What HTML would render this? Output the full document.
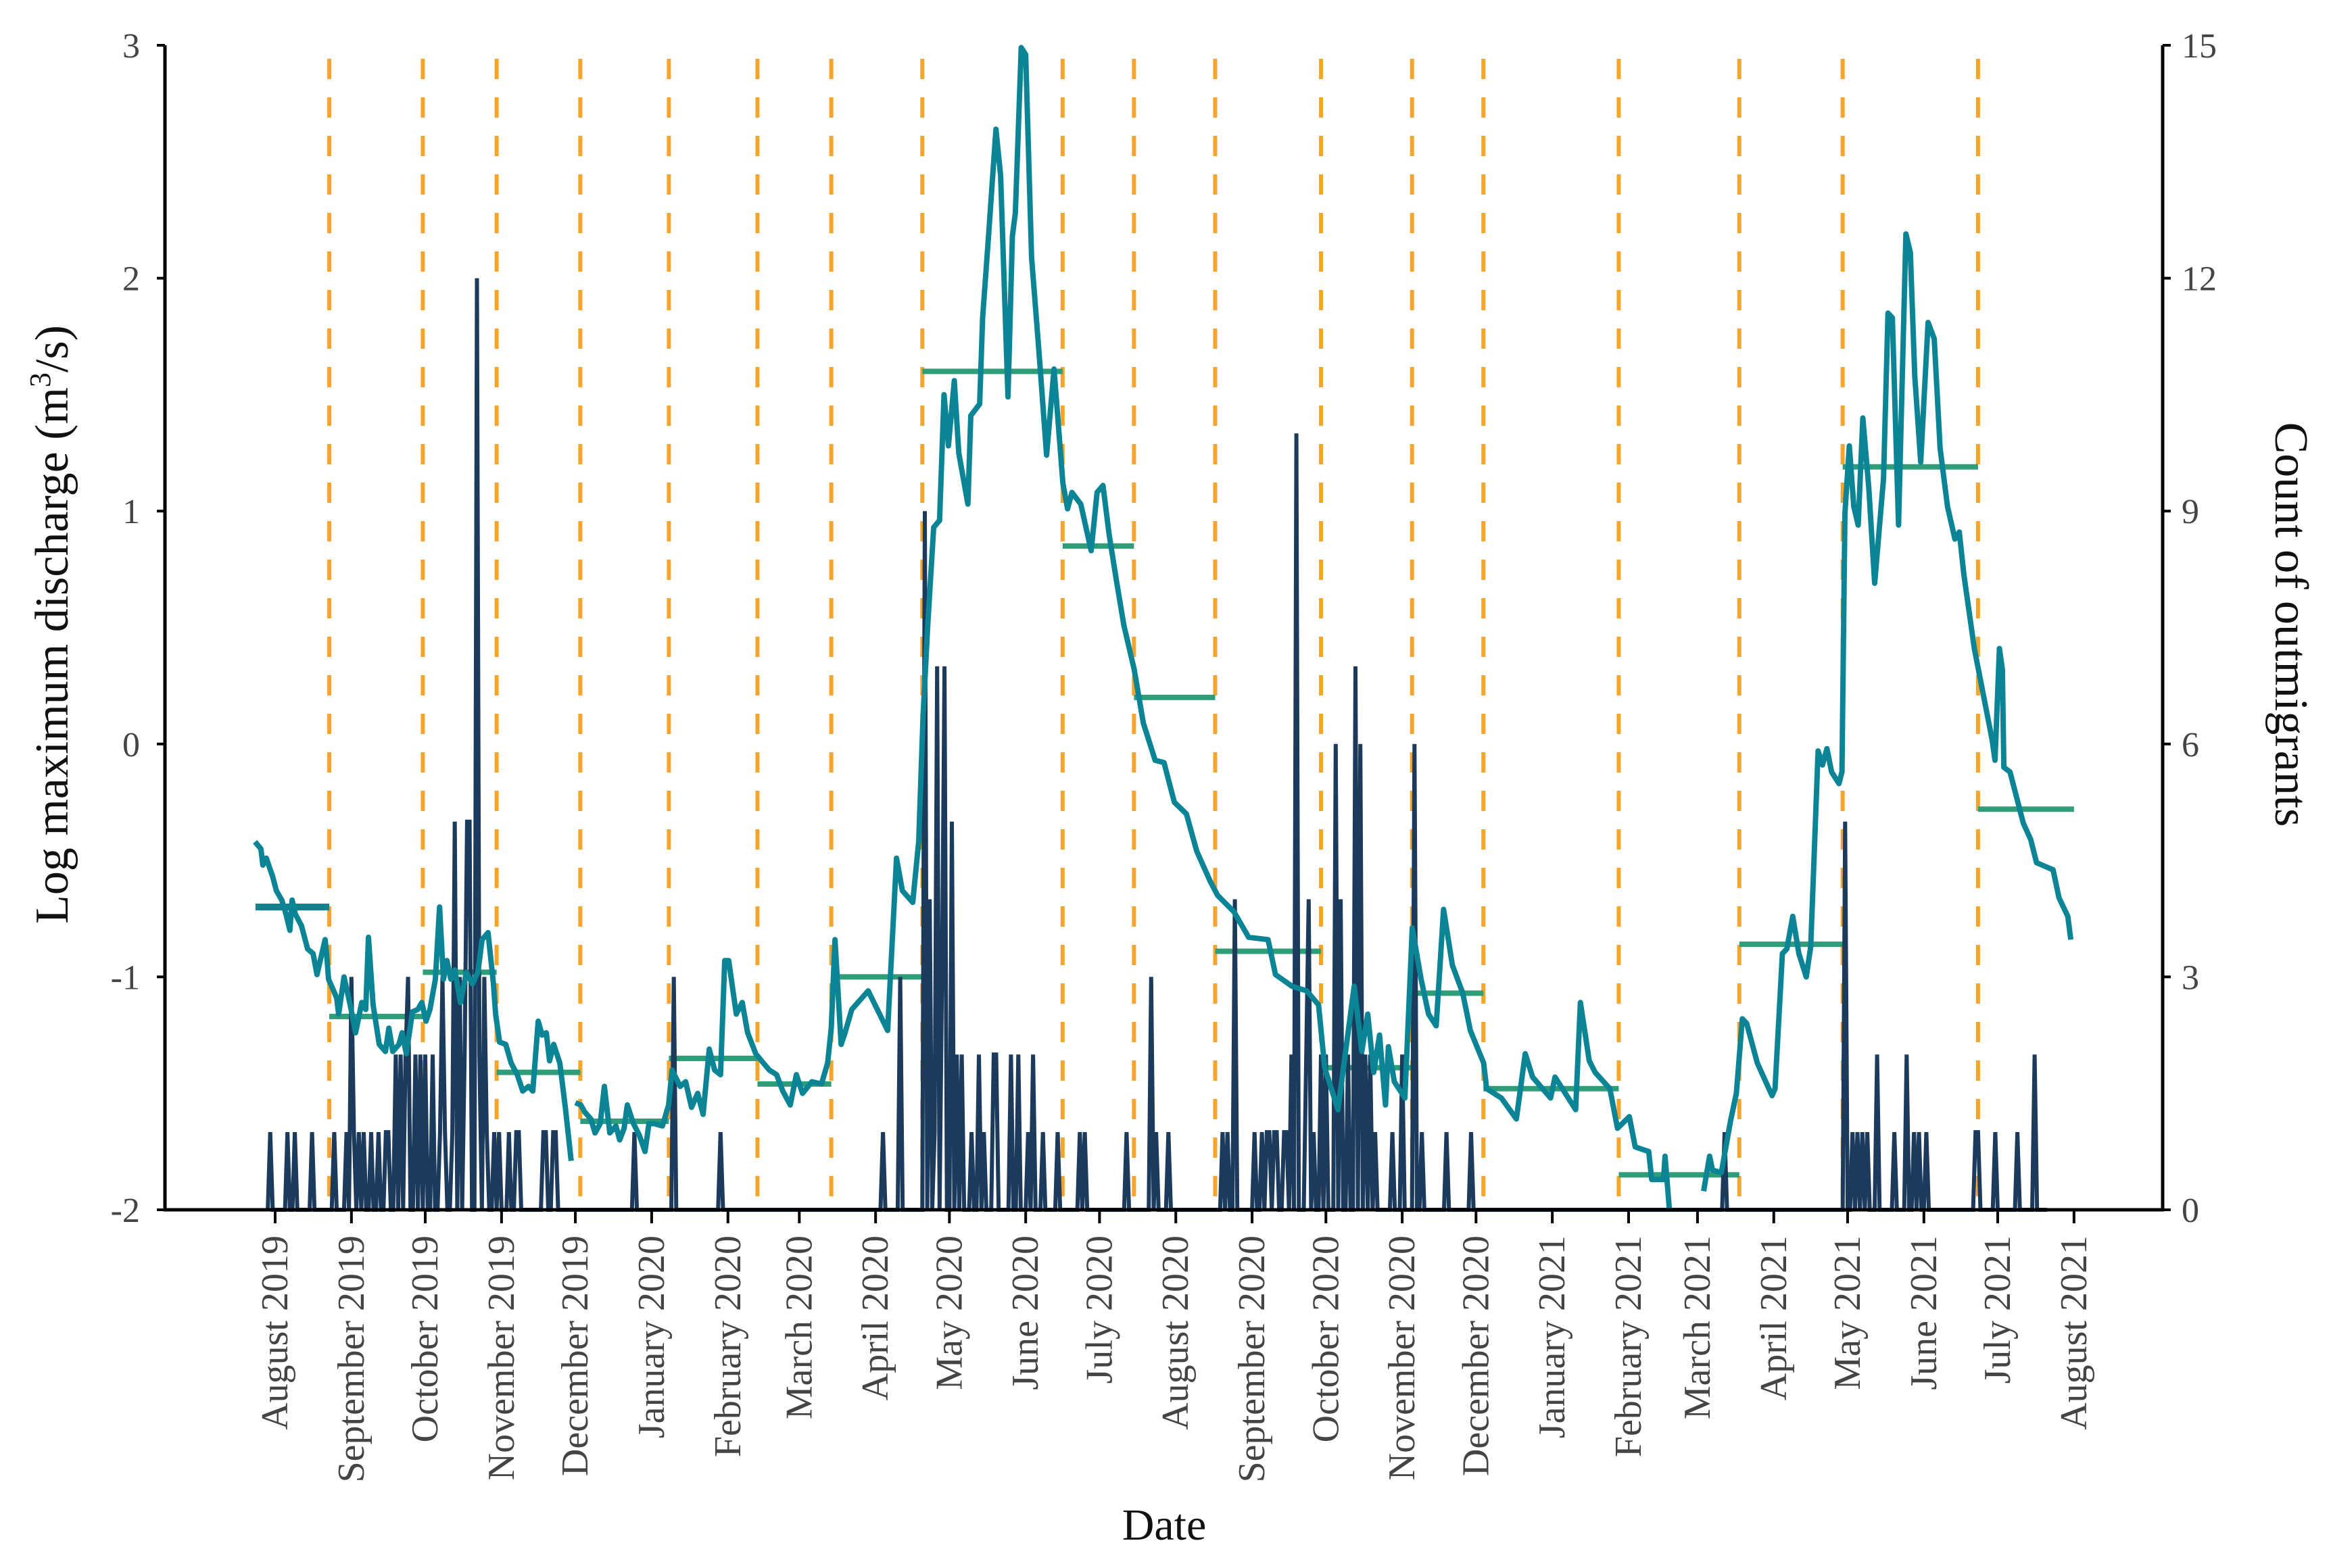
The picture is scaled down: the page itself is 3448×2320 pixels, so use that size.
<!DOCTYPE html>
<html><head><meta charset="utf-8"><title>Discharge and outmigrants</title>
<style>
html,body{margin:0;padding:0;background:#fff;}
svg{display:block;font-family:"Liberation Serif",serif;}
</style></head>
<body>
<svg id="chart" width="3448" height="2320" viewBox="0 0 3448 2320" xmlns="http://www.w3.org/2000/svg">
<rect width="3448" height="2320" fill="#fff"/>
<g id="dashes"></g>
<g id="means"></g>
<g id="counts"></g>
<g id="discharge"></g>
<g id="axes"></g>
<text x="0" y="0" transform="translate(100,924) rotate(-90)" text-anchor="middle" font-size="70" fill="#111">Log maximum discharge (m<tspan dy="-26" font-size="44">3</tspan><tspan dy="26">/s)</tspan></text>
<text x="0" y="0" transform="translate(3366,924) rotate(90)" text-anchor="middle" font-size="70" fill="#111">Count of outmigrants</text>
<text x="1722" y="2278" text-anchor="middle" font-size="66" fill="#111">Date</text>
</svg>
<script>
// ---- data ----
const monthLabels = ["August 2019","September 2019","October 2019","November 2019","December 2019","January 2020","February 2020","March 2020","April 2020","May 2020","June 2020","July 2020","August 2020","September 2020","October 2020","November 2020","December 2020","January 2021","February 2021","March 2021","April 2021","May 2021","June 2021","July 2021","August 2021"];
const monthDays = [0,31,61,92,122,153,184,213,244,274,305,335,366,397,427,458,488,519,550,578,609,639,670,700,731];
const leftTicks = [-2,-1,0,1,2,3];
const rightTicks = [0,3,6,9,12,15];
const boundaryDays = [22,60,90,124,160,196,226,263,320,349,382,425,462,491,546,595,637,692];
const meanStart = [-8,22,60,90,124,160,196,226,263,320,349,382,425,462,491,546,595,637,692];
const meanEnd = [22,60,90,124,160,196,226,263,320,349,382,425,462,491,546,595,637,692,731];
const meanValues = [-0.70,-1.17,-0.98,-1.41,-1.62,-1.35,-1.46,-1.0,1.60,0.85,0.20,-0.89,-1.39,-1.07,-1.48,-1.85,-0.86,1.19,-0.28];
const qDays = [-8.2,-5.8,-5,-3.6,-1,0.5,2.7,4.4,6,6.9,8.2,10.7,13.2,15.4,17,20.3,20.9,21.7,25,25.8,28,30.5,32.7,35.2,36.8,37.9,39.8,42.3,44.8,46.2,47.8,50.3,51.6,53.3,55.8,58,59.6,61.3,62.9,65.1,66.8,68.4,69.8,71.4,73,75.3,77.7,80.2,82.4,84.1,86.5,88.7,89.6,91.2,93.7,95.9,98.4,100.6,103,104.7,106.9,108.5,110.2,111.5,113.2,115.7,117.9,120.3,121,122,124.2,125.8,128.3,130,132.1,133.8,136,138.5,140,141.8,143.1,145.6,148,150.3,151.9,154.1,157.4,159.9,161.3,164.6,166.8,169.2,171.7,173.9,176.4,178.6,181,182.7,184.3,187.4,189.8,192,195.3,198.4,200.8,203.8,206.3,209.3,211.8,214.3,218.1,222,224.5,226,227.5,230,231.6,234.3,241,248.9,252.5,254.9,259.1,261.5,263.3,265.2,267.6,270,271.8,273.6,276,277.8,281.5,282.7,286.3,287.5,289.9,292.9,294.8,297.8,299.6,300.8,303.2,305,307.4,310.5,313.5,316.5,320.1,322,323.8,327.4,331.6,334,336.4,338.9,341.9,344.9,349.1,352.8,357.6,361.2,365.4,370.3,374.5,380,383,389.6,395.6,403.5,406.5,413.2,419.2,424,426.5,431.9,438.5,441.6,444,446.4,448.8,451.2,452.4,454.8,459.1,462.1,465.7,468.7,471.8,474.8,478.4,482.6,485.7,491.1,492.3,498.3,504.4,508,511,518.3,520.1,528.5,530.4,534,536.4,542.4,545.5,550.3,552.7,558.2,559.4,564.2,564.8,566.6,570,580.5,582.9,584.1,587.7,591.4,593.8,596.2,598,602.3,605.3,608.3,609.5,612.5,614.3,616.7,619.2,622.2,624,627,628.8,630.6,632.5,635.5,636.7,637.9,639.7,641.5,643.3,645.2,647.6,650,653.6,655.4,657.2,659.7,662.7,664.5,666.3,668.7,671.7,674.2,676.6,679.6,682.6,684.4,686.2,690.5,697.7,698.9,700.7,701.9,702.5,705,710.4,713.4,715.8,722.5,724.9,728.5,729.7];
const qValues = [-0.42,-0.45,-0.52,-0.49,-0.57,-0.63,-0.67,-0.73,-0.80,-0.67,-0.73,-0.78,-0.88,-0.90,-0.99,-0.84,-0.90,-1.01,-1.09,-1.16,-1.00,-1.12,-1.24,-1.11,-1.14,-0.83,-1.12,-1.29,-1.32,-1.22,-1.32,-1.29,-1.24,-1.33,-1.15,-1.14,-1.11,-1.19,-1.14,-1.01,-0.70,-1.01,-0.93,-1.01,-0.97,-1.11,-0.98,-1.03,-0.98,-0.84,-0.81,-1.03,-1.16,-1.28,-1.29,-1.37,-1.42,-1.49,-1.47,-1.49,-1.19,-1.25,-1.24,-1.36,-1.29,-1.37,-1.56,-1.79,null,-1.54,-1.55,-1.58,-1.61,-1.67,-1.63,-1.47,-1.67,-1.64,-1.70,-1.65,-1.55,-1.63,-1.68,-1.75,-1.63,-1.63,-1.64,-1.55,-1.40,-1.47,-1.45,-1.56,-1.50,-1.59,-1.31,-1.40,-1.42,-0.93,-0.93,-1.16,-1.11,-1.24,-1.33,-1.37,-1.40,-1.42,-1.49,-1.55,-1.42,-1.50,-1.45,-1.46,-1.37,-1.22,-0.84,-1.29,-1.24,-1.14,-1.06,-1.23,-0.49,-0.63,-0.68,-0.42,0.12,0.51,0.93,0.96,1.50,1.28,1.56,1.25,1.03,1.41,1.46,1.83,2.18,2.64,2.44,1.49,2.18,2.28,2.99,2.96,2.09,1.67,1.24,1.61,1.12,1.01,1.08,1.03,0.83,1.08,1.11,0.90,0.70,0.51,0.32,0.09,-0.07,-0.08,-0.25,-0.30,-0.46,-0.59,-0.65,-0.72,-0.83,-0.84,-0.99,-1.04,-1.06,-1.12,-1.39,-1.57,-1.04,-1.32,-1.16,-1.41,-1.25,-1.55,-1.30,-1.45,-1.52,-0.79,-1.01,-1.16,-1.21,-0.71,-0.95,-1.07,-1.23,-1.37,-1.48,-1.52,-1.61,-1.33,-1.43,-1.52,-1.43,-1.57,-1.11,-1.36,-1.41,-1.48,-1.65,-1.60,-1.73,-1.75,-1.87,-1.87,-1.77,-2.01,null,-1.92,-1.77,-1.83,-1.84,-1.62,-1.50,-1.18,-1.20,-1.37,-1.44,-1.51,-1.48,-0.90,-0.88,-0.74,-0.90,-1.00,-0.87,-0.03,-0.09,-0.02,-0.12,-0.17,-0.12,0.99,1.28,1.02,0.94,1.40,1.10,0.69,1.14,1.85,1.83,0.94,2.19,2.11,1.58,1.21,1.81,1.74,1.27,1.02,0.88,0.91,0.73,0.41,0.02,-0.07,0.41,0.32,-0.10,-0.12,-0.34,-0.41,-0.51,-0.54,-0.66,-0.74,-0.84];
const countDays = [-2,5,8,15,24,29,31,32,34,36,39,42,45,46,49,51,53,54,57,59,61,64,67,68,69,72,73,75,77,78,79,82,83,85,86,89,91,95,98,99,109,110,113,114,146,162,181,247,254,264,266,268,269,271,272,275,277,279,283,286,288,292,293,299,302,306,308,312,318,327,329,346,356,358,363,385,387,390,398,401,403,404,406,407,410,411,413,415,419,420,422,425,427,431,433,436,439,441,443,445,447,454,458,463,466,476,486,589,638,641,643,645,647,651,658,663,666,668,671,691,692,699,708,715];
const countValues = [1,1,1,1,1,1,3,1,1,1,1,1,1,1,2,2,2,3,2,2,2,2,1,3,1,1,5,3,2,5,5,12,2,3,1,1,1,1,1,1,1,1,1,1,1,3,1,1,3,9,4,1,7,3,7,5,2,2,1,2,1,2,2,2,2,1,2,1,1,1,1,1,3,1,1,1,1,4,1,1,1,1,1,1,1,1,2,10,2,4,1,2,2,6,4,2,7,6,2,2,1,1,2,6,1,1,1,1,5,1,1,1,1,2,1,2,1,1,1,1,1,1,1,2];

// ---- scales ----
const X0 = 407, PXD = 3.640;
const L = 244, R = 3199, T = 67, B = 1790;
function xs(d){ return X0 + d*PXD; }
function yL(v){ return B - (v+2)/5*(B-T); }
function yR(c){ return B - c/15*(B-T); }
const NS = "http://www.w3.org/2000/svg";
function mk(tag, attrs, parent){ const e=document.createElementNS(NS,tag); for(const k in attrs) e.setAttribute(k,attrs[k]); parent.appendChild(e); return e; }

// boundaries
const gD = document.getElementById('dashes');
boundaryDays.forEach(d=>{
  const l = mk('line',{x1:xs(d),x2:xs(d),y1:T+20,y2:B,stroke:'#f7a42a','stroke-width':6,'stroke-dasharray':'30 27'},gD);
  
  
});

// counts (daily)
const gC = document.getElementById('counts');
const daily = {};
countDays.forEach((d,i)=>{ daily[d]=countValues[i]; });
let pts = [];
for(let d=-3; d<=720; d++){ const c = daily[d]||0; pts.push(xs(d).toFixed(1)+','+yR(c).toFixed(1)); }
const cl = mk('polyline',{points:pts.join(' '),fill:'none',stroke:'#1c3a5c','stroke-width':6,'stroke-linejoin':'miter'},gC);



// period means
const gM = document.getElementById('means');
meanValues.forEach((v,i)=>{
  const l = mk('line',{x1:xs(meanStart[i]),x2:xs(meanEnd[i]),y1:yL(v),y2:yL(v),stroke:i===0?'#16808e':'#2f9d78','stroke-width':i===0?10:8},gM);
  
  
});

// discharge
const gQ = document.getElementById('discharge');
let segs=[], cur=[];
qDays.forEach((d,i)=>{
  const v=qValues[i];
  if(v===null){ if(cur.length) segs.push(cur); cur=[]; return; }
  cur.push(xs(d).toFixed(1)+','+yL(Math.max(v,-2)).toFixed(1));
});
if(cur.length) segs.push(cur);
segs.forEach(s=>{
  const p = mk('polyline',{points:s.join(' '),fill:'none',stroke:'#0b8595','stroke-width':8,'stroke-linejoin':'round'},gQ);
  
  
});

// axes
const gA = document.getElementById('axes');
const ax1 = mk('line',{x1:L,x2:L,y1:T,y2:B+2,stroke:'#000','stroke-width':5},gA);


const ax2 = mk('line',{x1:R,x2:R,y1:T,y2:B+2,stroke:'#000','stroke-width':5},gA);


const ax3 = mk('line',{x1:L-2,x2:R+2,y1:B,y2:B,stroke:'#000','stroke-width':5},gA);


leftTicks.forEach(v=>{
  const y=yL(v);
  const t = mk('line',{x1:L-12,x2:L,y1:y,y2:y,stroke:'#000','stroke-width':4},gA);
  
  
  const tx = mk('text',{x:207,y:y+18,'text-anchor':'end','font-size':52,fill:'#444'},gA);
  tx.textContent = v;
  
  
});
rightTicks.forEach(c=>{
  const y=yR(c);
  const t = mk('line',{x1:R,x2:R+12,y1:y,y2:y,stroke:'#000','stroke-width':4},gA);
  
  
  const tx = mk('text',{x:R+28,y:y+18,'text-anchor':'start','font-size':52,fill:'#444'},gA);
  tx.textContent = c;
  
  
});
monthDays.forEach((d,i)=>{
  const x=xs(d);
  const t = mk('line',{x1:x,x2:x,y1:B,y2:B+20,stroke:'#000','stroke-width':4},gA);
  
  
  const tx = mk('text',{x:0,y:0,transform:'translate('+(x+18)+','+(B+38)+') rotate(-90)','text-anchor':'end','font-size':56,fill:'#444'},gA);
  tx.textContent = monthLabels[i];
  
  
});
</script>
</body></html>
